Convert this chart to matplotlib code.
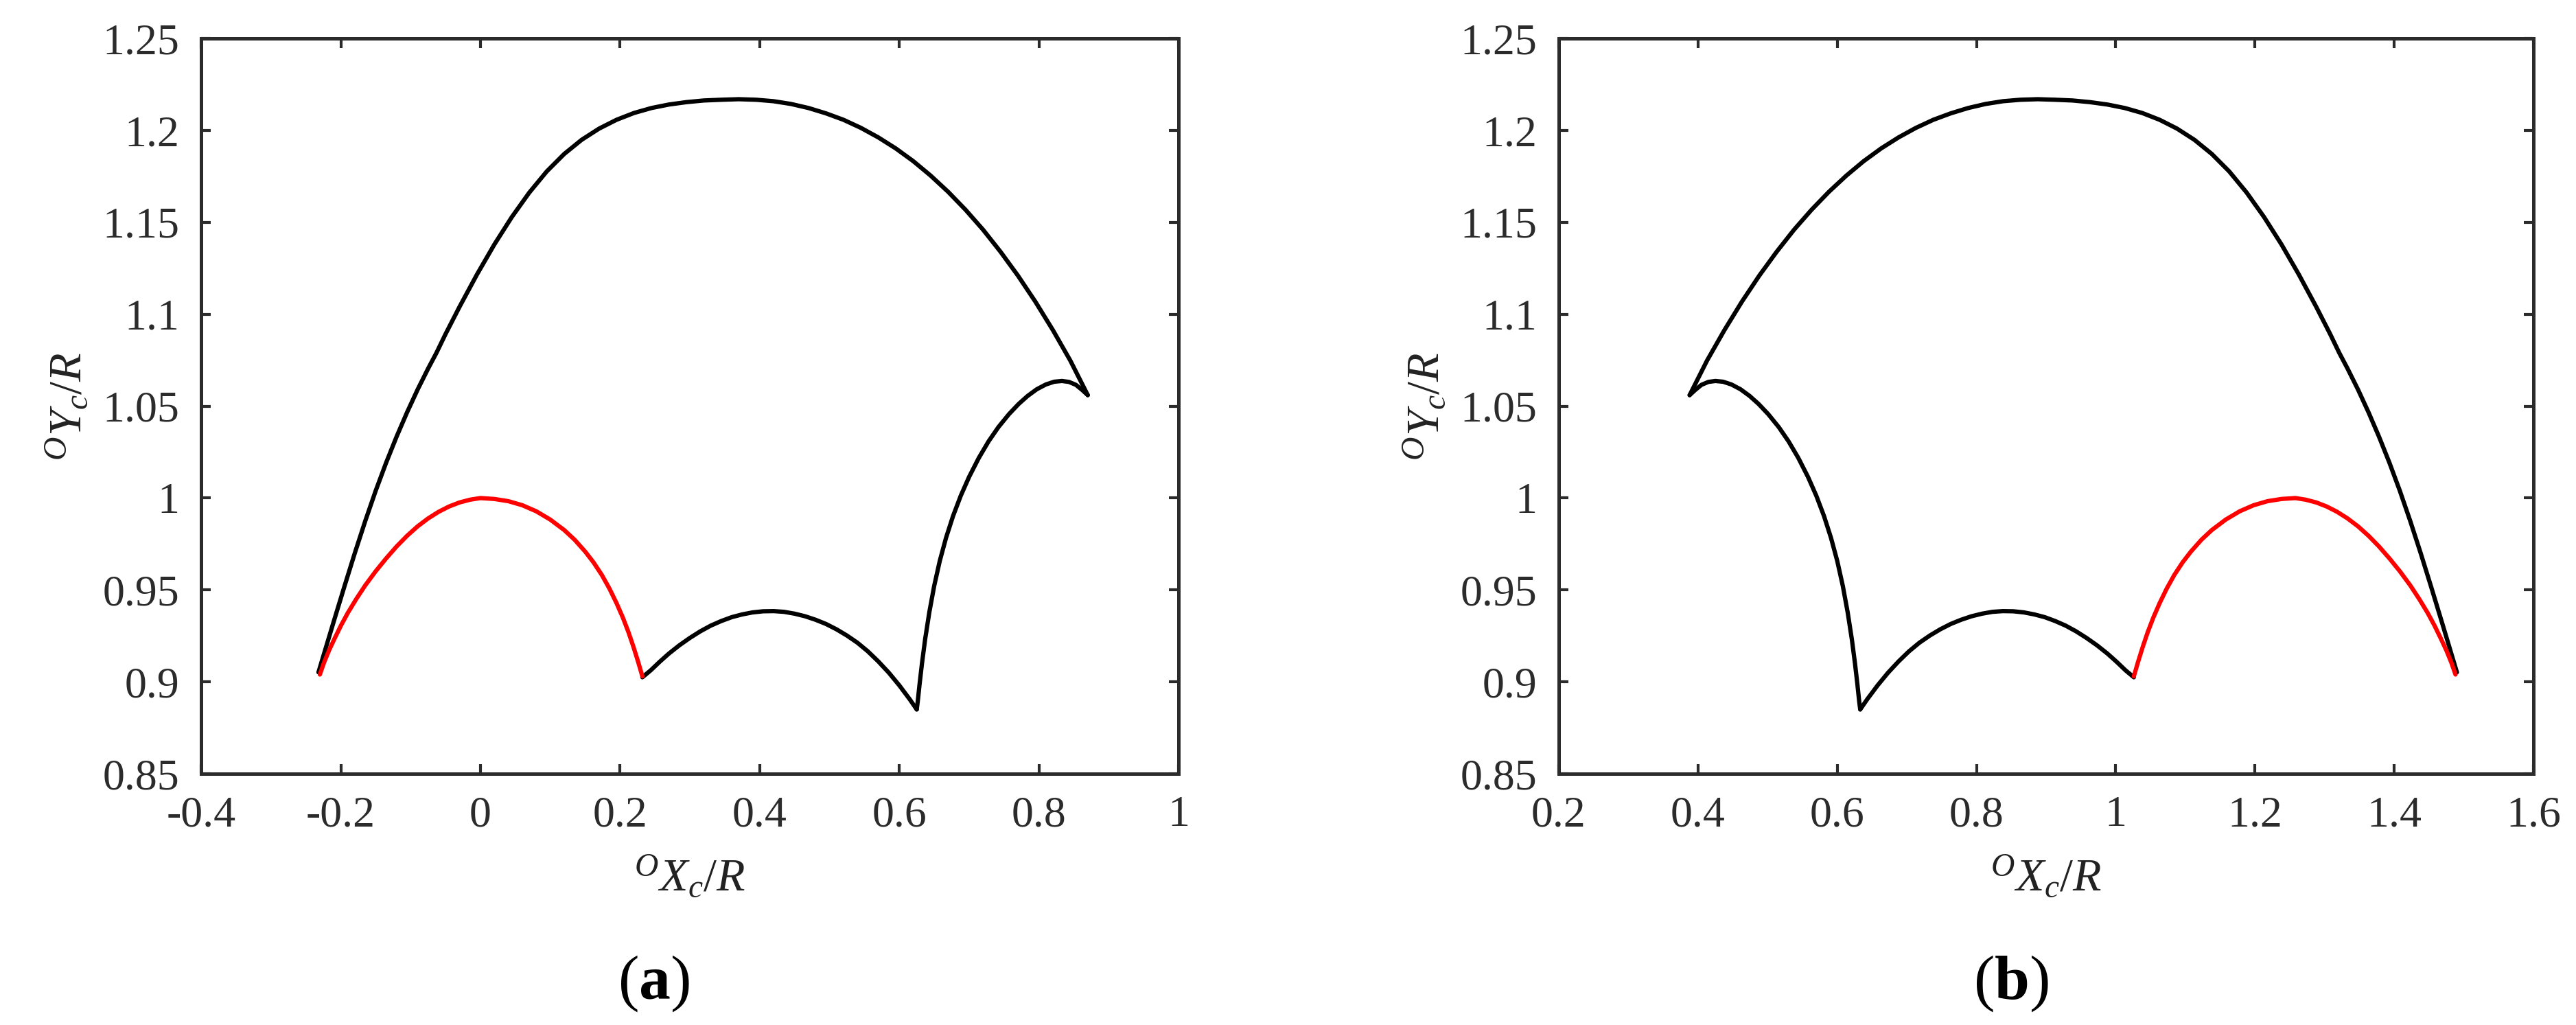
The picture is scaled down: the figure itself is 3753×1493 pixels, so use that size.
"""
Trajectory of the contact-centre O_c, two mirrored cases (a) and (b).
"""

import matplotlib.pyplot as plt

plt.switch_backend("Agg")

plt.rcParams["font.family"] = ["Liberation Serif", "DejaVu Serif"]
plt.rcParams["mathtext.fontset"] = "custom"
plt.rcParams["mathtext.rm"] = "Liberation Serif"
plt.rcParams["mathtext.it"] = "Liberation Serif:italic"
plt.rcParams["mathtext.bf"] = "Liberation Serif:bold"

# ---- curve readings (y values are shared by both panels) ----
# outer arc: left cusp -> kink -> dome -> right cusp
top_y = [0.9052, 0.9204, 0.933, 0.9517, 0.97, 0.9875, 1.004, 1.0193, 1.0335, 1.0467,
         1.059, 1.0704, 1.079,
         1.0892, 1.104, 1.1216, 1.138, 1.1529, 1.1662, 1.1777, 1.1872, 1.1949, 1.201,
         1.2058, 1.2095, 1.2122, 1.2141, 1.2154, 1.2163, 1.2167, 1.217,
         1.2167, 1.2159, 1.2144, 1.2122, 1.2093, 1.2058, 1.2014, 1.1962, 1.1902, 1.1833,
         1.1754, 1.1666, 1.1568, 1.146, 1.134, 1.121, 1.1068, 1.0914, 1.0748, 1.056]
# hook from the side cusp down to the lowest cusp
hook_y = [1.056, 1.0588, 1.0616, 1.0632, 1.0637, 1.0633, 1.0618, 1.0592, 1.0556, 1.0512,
          1.0456, 1.0386, 1.0309, 1.0219, 1.0115, 1.0012, 0.9902, 0.9784, 0.9658, 0.9522,
          0.9378, 0.9231, 0.9100, 0.8985, 0.8895, 0.885]
# lower arch between the two bottom cusps
low_y = [0.885, 0.8905, 0.8981, 0.905, 0.9111, 0.9166, 0.9213, 0.9252, 0.9286, 0.9315,
         0.9338, 0.9357, 0.9371, 0.9381, 0.9385, 0.9384, 0.9378, 0.9367, 0.9352, 0.9331,
         0.9306, 0.9275, 0.9239, 0.9199, 0.9154, 0.911, 0.9063, 0.9025]
# red arch
red_y = [0.904, 0.9105, 0.917, 0.9235, 0.9305, 0.9375, 0.945, 0.9525, 0.9602, 0.9672,
         0.9737, 0.9795, 0.9846, 0.9889, 0.9925, 0.9954, 0.9976, 0.9991, 1.0,
         0.9995, 0.9983, 0.9961, 0.9928, 0.9883, 0.9826, 0.9773, 0.9709, 0.965, 0.9581,
         0.9506, 0.9428, 0.935, 0.9271, 0.9193, 0.9108, 0.903]

# ---- panel (a) x readings ----
a_top_x = [-0.232, -0.22, -0.21, -0.195, -0.18, -0.165, -0.15, -0.135, -0.12, -0.105,
           -0.09, -0.075, -0.063,
           -0.05, -0.03, -0.005, 0.02, 0.045, 0.07, 0.095, 0.12, 0.145, 0.17,
           0.195, 0.22, 0.245, 0.27, 0.295, 0.32, 0.345, 0.37,
           0.395, 0.42, 0.445, 0.47, 0.495, 0.52, 0.545, 0.57, 0.595, 0.62,
           0.645, 0.67, 0.695, 0.72, 0.745, 0.77, 0.795, 0.82, 0.845, 0.87]
a_hook_x = [0.87, 0.862, 0.853, 0.843, 0.833, 0.822, 0.81, 0.797, 0.784, 0.771,
            0.757, 0.742, 0.728, 0.714, 0.700, 0.688, 0.677, 0.667, 0.658, 0.650,
            0.643, 0.637, 0.6325, 0.629, 0.6265, 0.625]
a_low_x = [0.625, 0.615, 0.6, 0.585, 0.57, 0.555, 0.54, 0.525, 0.51, 0.495,
           0.48, 0.465, 0.45, 0.435, 0.42, 0.405, 0.39, 0.375, 0.36, 0.345,
           0.33, 0.315, 0.3, 0.285, 0.27, 0.257, 0.244, 0.232]
a_red_x = [-0.23, -0.224, -0.217, -0.209, -0.2, -0.19, -0.178, -0.165, -0.15, -0.135,
           -0.12, -0.105, -0.09, -0.075, -0.06, -0.045, -0.03, -0.015, 0.0,
           0.02, 0.04, 0.06, 0.08, 0.1, 0.12, 0.135, 0.15, 0.162, 0.174,
           0.185, 0.195, 0.204, 0.212, 0.219, 0.226, 0.232]

# ---- panel (b) x readings ----
b_top_x = [1.49, 1.478, 1.468, 1.453, 1.438, 1.423, 1.408, 1.393, 1.378, 1.363,
           1.348, 1.333, 1.321,
           1.308, 1.288, 1.263, 1.238, 1.213, 1.188, 1.163, 1.138, 1.113, 1.088,
           1.063, 1.038, 1.013, 0.988, 0.963, 0.938, 0.913, 0.888,
           0.863, 0.838, 0.813, 0.788, 0.763, 0.738, 0.713, 0.688, 0.663, 0.638,
           0.613, 0.588, 0.563, 0.538, 0.513, 0.488, 0.463, 0.438, 0.413, 0.388]
b_hook_x = [0.388, 0.396, 0.405, 0.415, 0.425, 0.436, 0.448, 0.461, 0.474, 0.487,
            0.501, 0.516, 0.530, 0.544, 0.558, 0.570, 0.581, 0.591, 0.600, 0.608,
            0.615, 0.621, 0.6255, 0.629, 0.6315, 0.633]
b_low_x = [0.633, 0.643, 0.658, 0.673, 0.688, 0.703, 0.718, 0.733, 0.748, 0.763,
           0.778, 0.793, 0.808, 0.823, 0.838, 0.853, 0.868, 0.883, 0.898, 0.913,
           0.928, 0.943, 0.958, 0.973, 0.988, 1.001, 1.014, 1.026]
b_red_x = [1.488, 1.482, 1.475, 1.467, 1.458, 1.448, 1.436, 1.423, 1.408, 1.393,
           1.378, 1.363, 1.348, 1.333, 1.318, 1.303, 1.288, 1.273, 1.258,
           1.238, 1.218, 1.198, 1.178, 1.158, 1.138, 1.123, 1.108, 1.096, 1.084,
           1.073, 1.063, 1.054, 1.046, 1.039, 1.032, 1.026]

y_ticks = [0.85, 0.9, 0.95, 1.0, 1.05, 1.1, 1.15, 1.2, 1.25]
y_labels = ["0.85", "0.9", "0.95", "1", "1.05", "1.1", "1.15", "1.2", "1.25"]
a_x_ticks = [-0.4, -0.2, 0.0, 0.2, 0.4, 0.6, 0.8, 1.0]
a_x_labels = ["-0.4", "-0.2", "0", "0.2", "0.4", "0.6", "0.8", "1"]
b_x_ticks = [0.2, 0.4, 0.6, 0.8, 1.0, 1.2, 1.4, 1.6]
b_x_labels = ["0.2", "0.4", "0.6", "0.8", "1", "1.2", "1.4", "1.6"]

SPINE = "#2b2b2b"
TICK_SIZE = 46
LABEL_SIZE = 49
LW = 4.5


def _draw_panel(ax, top_x, hook_x, low_x, red_x):
    kw = dict(lw=LW, solid_joinstyle="round", solid_capstyle="round")
    ax.plot(top_x, top_y, color="black", **kw)
    ax.plot(hook_x, hook_y, color="black", **kw)
    ax.plot(low_x, low_y, color="black", **kw)
    ax.plot(red_x, red_y, color="red", **kw)


def _style_axes(ax, xticks, xlabels, xlim):
    ax.set_xlim(*xlim)
    ax.set_ylim(0.85, 1.25)
    ax.set_xticks(xticks)
    ax.set_xticklabels(xlabels)
    ax.set_yticks(y_ticks)
    ax.set_yticklabels(y_labels)
    ax.tick_params(direction="in", length=10, width=3, colors=SPINE,
                   labelsize=TICK_SIZE, pad=23, top=True, right=True)
    for sp in ax.spines.values():
        sp.set_linewidth(3.6)
        sp.set_color(SPINE)
    ax.set_xlabel(r"${}^{O}X_{c}/R$", fontsize=LABEL_SIZE, color="#222222")
    ax.set_ylabel(r"${}^{O}Y_{c}/R$", fontsize=LABEL_SIZE, color="#222222")
    ax.xaxis.set_label_coords(0.5, -0.110)
    ax.yaxis.set_label_coords(-0.113, 0.5)


fig = plt.figure(figsize=(37.53, 14.93), dpi=100)
ax_a = fig.add_axes([0.0781, 0.2451, 0.3794, 0.7173])
ax_b = fig.add_axes([0.6051, 0.2451, 0.3784, 0.7173])

_draw_panel(ax_a, a_top_x, a_hook_x, a_low_x, a_red_x)
_style_axes(ax_a, a_x_ticks, a_x_labels, (-0.4, 1.0))

_draw_panel(ax_b, b_top_x, b_hook_x, b_low_x, b_red_x)
_style_axes(ax_b, b_x_ticks, b_x_labels, (0.2, 1.6))

fig.text(0.2537, 0.0255, r"($\mathbf{a}$)", fontsize=66, ha="center", va="baseline")
fig.text(0.7807, 0.0255, r"($\mathbf{b}$)", fontsize=66, ha="center", va="baseline")

fig.savefig("out.png", dpi=100)
plt.close(fig)
